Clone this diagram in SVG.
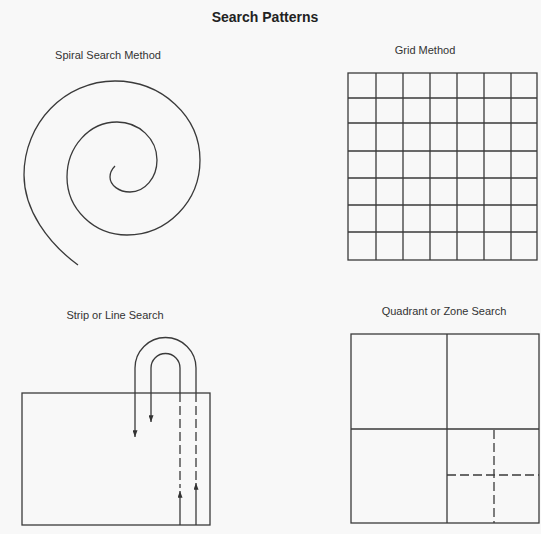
<svg xmlns="http://www.w3.org/2000/svg" width="541" height="534" viewBox="0 0 541 534">
  <defs>
    <style>
      .ln { fill: none; stroke: #3a3a3a; stroke-width: 1.3; }
      .dash { fill: none; stroke: #3a3a3a; stroke-width: 1.3; stroke-dasharray: 9 4; }
      .lbl { font-family: "Liberation Sans", Arial, sans-serif; font-size: 11px; fill: #333; text-anchor: middle; }
      .title { font-family: "Liberation Sans", Arial, sans-serif; font-size: 14px; font-weight: bold; fill: #222; text-anchor: middle; }
    </style>
    <marker id="arr" viewBox="0 0 8 6" refX="8" refY="3" markerWidth="7" markerHeight="5" markerUnits="userSpaceOnUse" orient="auto">
      <path d="M0,0 L8,3 L0,6 Z" fill="#333"/>
    </marker>
  </defs>
  <rect width="541" height="534" fill="#f8f8f8"/>

  <text class="title" x="265" y="22">Search Patterns</text>

  <g id="spiral">
    <text class="lbl" x="108" y="59">Spiral Search Method</text>
    <path class="ln" d="M115,166 C112,169 110,173 110,177 C110,185.3 119,192 130,192 C144.9,192 157,177.7 157,160 C157,139 139.1,122 117,122 C89.4,122 67,146.6 67,177 C67,209 93.9,235 127,235 C167.3,235 200,201.4 200,160 C200,116.4 161.9,81 115,81 C64.7,81 24,123.1 24,175 C24,210 48,243 78,265"/>
  </g>

  <g id="grid">
    <text class="lbl" x="425" y="54">Grid Method</text>
    <rect class="ln" x="348" y="73" width="189" height="187"/>
    <path class="ln" d="M376,73 V260 M403,73 V260 M430,73 V260 M457,73 V260 M484,73 V260 M511,73 V260 M348,98 H537 M348,123 H537 M348,151 H537 M348,178 H537 M348,205 H537 M348,232 H537"/>
  </g>

  <g id="strip">
    <text class="lbl" x="115" y="319">Strip or Line Search</text>
    <rect class="ln" x="22" y="393" width="188" height="132"/>
  </g>

  <g id="connectors">
    <path class="ln" d="M196,393 L196,368 A30.5,30.5 0 0 0 135,368 L135,437" marker-end="url(#arr)"/>
    <path class="ln" d="M180,393 L180,368 A14.5,14.5 0 0 0 151,368 L151,422" marker-end="url(#arr)"/>
    <path class="dash" d="M196,393 L196,480"/>
    <path class="dash" d="M180,393 L180,488"/>
    <path class="ln" d="M196,525 L196,483" marker-end="url(#arr)"/>
    <path class="ln" d="M180,525 L180,491" marker-end="url(#arr)"/>
  </g>

  <g id="quadrant">
    <text class="lbl" x="444" y="315">Quadrant or Zone Search</text>
    <rect class="ln" x="351" y="334" width="188" height="189"/>
    <path class="ln" d="M447,334 V523 M351,429 H539"/>
    <path class="dash" d="M494,430 V523 M447,475 H539"/>
  </g>
</svg>
